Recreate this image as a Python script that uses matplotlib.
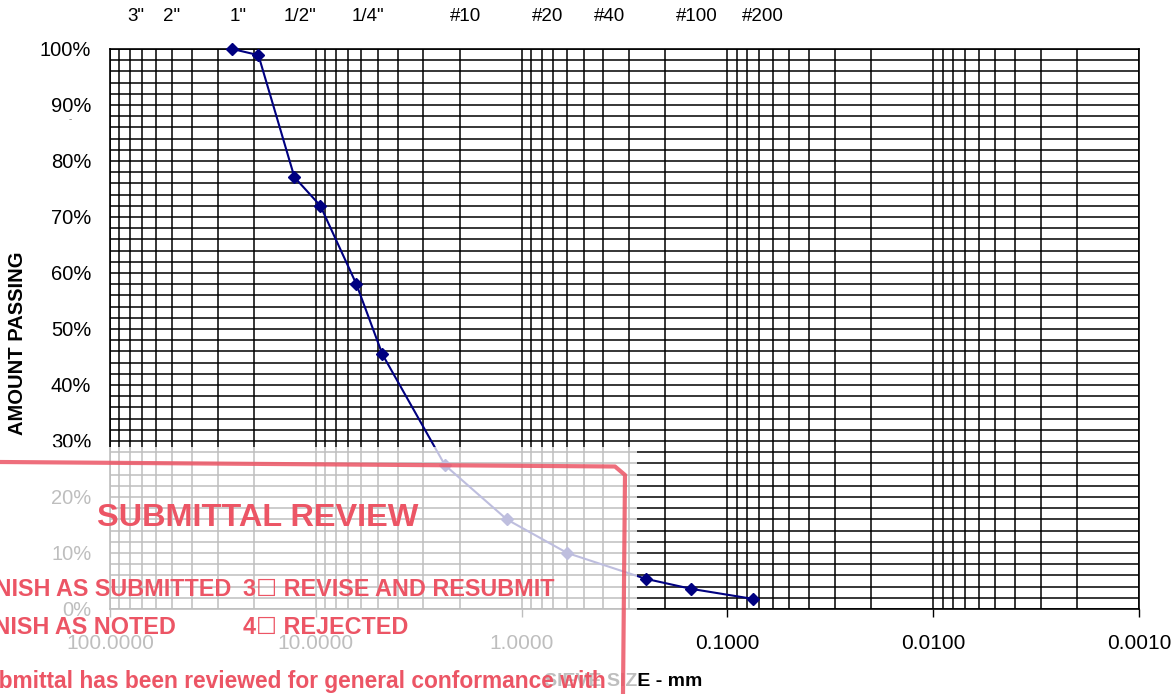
import matplotlib
matplotlib.use("Agg")
import matplotlib.pyplot as plt
from matplotlib import font_manager as fm
from matplotlib.ticker import LogLocator, FuncFormatter, MultipleLocator, NullFormatter
from matplotlib.patches import Rectangle
from matplotlib.lines import Line2D
import matplotlib.transforms as mtransforms

# ---------------- data ----------------
sieve_mm = [25.4, 19.0, 12.7, 9.5, 6.35, 4.75, 2.36, 1.18, 0.60, 0.25, 0.15, 0.075]
passing_pct = [100.0, 98.9, 77.1, 72.0, 58.0, 45.5, 25.7, 16.0, 10.0, 5.4, 3.6, 1.8]

top_labels = ['3"', '2"', '1"', '1/2"', '1/4"', '#10', '#20', '#40', '#100', '#200']
top_label_mm = [80.0, 54.0, 25.4, 12.7, 6.0, 2.0, 0.8, 0.4, 0.15, 0.072]

y_ticks = [0, 10, 20, 30, 40, 50, 60, 70, 80, 90, 100]

stamp_title = "SUBMITTAL REVIEW"
stamp_line1a = "1\u2610 FURNISH AS SUBMITTED"
stamp_line1b = "3\u2610 REVISE AND RESUBMIT"
stamp_line2a = "2\u2610 FURNISH AS NOTED"
stamp_line2b = "4\u2610 REJECTED"
stamp_line3 = "This submittal has been reviewed for general conformance with"

# ---------------- fonts ----------------
def has_font(name):
    try:
        fm.findfont(fm.FontProperties(family=name), fallback_to_default=False)
        return True
    except Exception:
        return False

base_family = ['Liberation Sans', 'DejaVu Sans']
plt.rcParams['font.family'] = base_family
if has_font('Liberation Sans Narrow'):
    stamp_family = ['Liberation Sans Narrow', 'DejaVu Sans']
    sscale = 1.0
else:
    stamp_family = ['Liberation Sans', 'DejaVu Sans']
    sscale = 0.82

W, H = 1176, 694
fig = plt.figure(figsize=(W / 100, H / 100), dpi=100)


def px(x, y):
    return x / W, 1 - y / H


L, R, T, B = 110, 1139, 49, 609
ax = fig.add_axes([L / W, 1 - B / H, (R - L) / W, (B - T) / H])

navy = '#000080'
ax.plot(sieve_mm, passing_pct, color=navy, lw=1.5, marker='D', ms=6.3,
        markerfacecolor=navy, markeredgecolor=navy, clip_on=False, zorder=5)

ax.set_xscale('log')
ax.set_xlim(100, 0.001)
ax.set_ylim(0, 100)
ax.xaxis.set_major_locator(LogLocator(base=10, numticks=20))
ax.xaxis.set_minor_locator(LogLocator(base=10, subs=range(2, 10), numticks=20))
ax.xaxis.set_major_formatter(FuncFormatter(lambda v, p: f"{v:.4f}"))
ax.xaxis.set_minor_formatter(NullFormatter())
ax.set_yticks(y_ticks)
ax.yaxis.set_minor_locator(MultipleLocator(2))
ax.yaxis.set_major_formatter(FuncFormatter(lambda v, p: f"{int(round(v))}%"))

ax.grid(which='both', color='black', lw=1.1)
ax.set_axisbelow(True)
for s in ax.spines.values():
    s.set_color('black')
    s.set_linewidth(1.2)

ax.tick_params(axis='x', which='major', length=6, width=1, direction='out',
               labelsize=15, pad=12, colors='black')
ax.tick_params(axis='x', which='minor', length=0)
ax.tick_params(axis='y', which='both', length=0, labelsize=14.5, pad=13.5)

# top sieve labels
trans = mtransforms.blended_transform_factory(ax.transData, ax.transAxes)
off = mtransforms.ScaledTranslation(6 / 100, 0, fig.dpi_scale_trans)
for lab, mm in zip(top_labels, top_label_mm):
    ax.text(mm, (B - 17) / (B - T), lab, transform=trans + off, ha='center',
            va='center', fontsize=13.5, clip_on=False)

# axis titles
fig.text(*px(623, 681), "SIEVE SIZE - mm", ha='center', va='center',
         fontsize=14, fontweight='bold', zorder=1)
fig.text(*px(18, 343), "AMOUNT PASSING", ha='center', va='center',
         rotation=90, fontsize=14.5, fontweight='bold', zorder=1)
fig.text(*px(70, 119), "-", ha='center', va='center', fontsize=7,
         color='#777777', zorder=1)

# ---------------- stamp overlay ----------------
ox0, oy0, ox1 = 0, 447, 637
fig.patches.append(Rectangle(px(ox0, H), ox1 / W, (H - oy0) / H,
                             transform=fig.transFigure, facecolor='white',
                             edgecolor='none', alpha=0.75, zorder=5))

red = '#EC5565'
fig.lines.append(Line2D([0, 615 / W, 625 / W, 623 / W],
                        [1 - 462 / H, 1 - 466.5 / H, 1 - 475 / H, 0],
                        transform=fig.transFigure, color=red, lw=3.0,
                        alpha=0.85, solid_joinstyle='round', zorder=6))

sk = dict(color=red, family=stamp_family, fontweight='bold', zorder=7)
fig.text(*px(97, 526), stamp_title, ha='left', va='baseline',
         fontsize=28.5 * sscale, **sk)
fig.text(*px(231, 596), stamp_line1a, ha='right', va='baseline',
         fontsize=20.5 * sscale, **sk)
fig.text(*px(243, 596), stamp_line1b, ha='left', va='baseline',
         fontsize=20.5 * sscale, **sk)
fig.text(*px(176, 634), stamp_line2a, ha='right', va='baseline',
         fontsize=20.5 * sscale, **sk)
fig.text(*px(243, 634), stamp_line2b, ha='left', va='baseline',
         fontsize=20.5 * sscale, **sk)
fig.text(*px(606, 688), stamp_line3, ha='right', va='baseline',
         fontsize=20 * sscale, **sk)

fig.savefig('out.png', dpi=100)
